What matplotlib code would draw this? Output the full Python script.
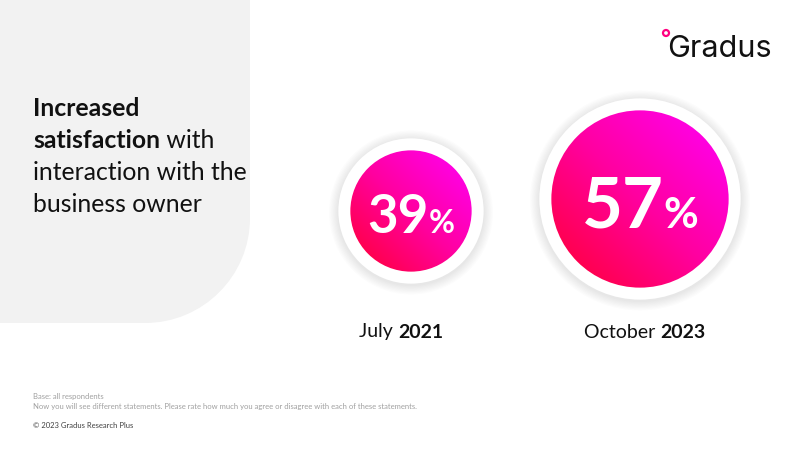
import numpy as np
import matplotlib
matplotlib.use("Agg")
import matplotlib.pyplot as plt
from matplotlib.patches import Circle, PathPatch
from matplotlib.path import Path
from matplotlib.colors import LinearSegmentedColormap

# data
values = [39, 57]
months = ["July", "October"]
years = ["2021", "2023"]
centers_x = [411, 640]
centers_y = [211, 199]
label_x = [401, 645]
label_sizes = [38, 51]

title_runs = [
    [("Increased", "bold")],
    [("satisfaction", "bold"), (" with", "normal")],
    [("interaction with the", "normal")],
    [("business owner", "normal")],
]
base_lines = [
    "Base: all respondents",
    "Now you will see different statements. Please rate how much you agree or disagree with each of these statements.",
]
copyright_text = "\u00a9 2023 Gradus Research Plus"

FONT = "Lato"
plt.rcParams["font.family"] = [FONT, "DejaVu Sans"]

fig = plt.figure(figsize=(8, 4.5), dpi=100)
ax = fig.add_axes([0, 0, 1, 1])
ax.set_xlim(0, 800)
ax.set_ylim(450, 0)
ax.axis("off")
fig.canvas.draw()
renderer = fig.canvas.get_renderer()


def runs(x, y, parts, size, color="#000000", va="center"):
    """draw text pieces one after another on one line"""
    for txt, weight in parts:
        t = ax.text(x, y, txt, fontsize=size, fontweight=weight, color=color,
                    ha="left", va=va)
        bb = t.get_window_extent(renderer)
        x += bb.width
    return x


# grey panel with rounded bottom-right corner
pw, ph, rad = 250, 323, 105
k = 0.5523
verts = [(0, 0), (pw, 0), (pw, ph - rad),
         (pw, ph - rad + rad * k), (pw - rad + rad * k, ph), (pw - rad, ph),
         (0, ph), (0, 0)]
codes = [Path.MOVETO, Path.LINETO, Path.LINETO,
         Path.CURVE4, Path.CURVE4, Path.CURVE4,
         Path.LINETO, Path.CLOSEPOLY]
ax.add_patch(PathPatch(Path(verts, codes), facecolor="#f2f2f2", edgecolor="none", zorder=0))

# headline
line_y = [108, 140, 172, 204]
for yy, parts in zip(line_y, title_runs):
    runs(33, yy, parts, 17.8, color="#111111")

# circles
cmap = LinearSegmentedColormap.from_list("grad", ["#ff0030", "#ff00a0", "#ff00fa"])
for v, cx, cy, big in zip(values, centers_x, centers_y, label_sizes):
    r = v * 1.555
    ring = r + 12
    # soft shadow
    for i in range(8):
        ax.add_patch(Circle((cx, cy + 1.5), ring + 1 + i * 1.2, facecolor="#000000",
                            edgecolor="none", alpha=0.012, zorder=1))
    ax.add_patch(Circle((cx, cy), ring, facecolor="white", edgecolor="none", zorder=2))
    n = 200
    u = np.linspace(0, 1, n)
    uu, vv = np.meshgrid(u, u)
    grad = (uu + (1 - vv)) / 2
    im = ax.imshow(grad, cmap=cmap, extent=[cx - r, cx + r, cy + r, cy - r],
                   origin="upper", zorder=3, interpolation="bilinear")
    clip = Circle((cx, cy), r, transform=ax.transData)
    im.set_clip_path(clip)
    # value label
    t1 = ax.text(0, 0, str(v), fontsize=big, fontweight="bold", color="white",
                 ha="left", va="baseline", zorder=4)
    t2 = ax.text(0, 0, "%", fontsize=big * 0.6, fontweight="bold", color="white",
                 ha="left", va="baseline", zorder=4)
    w1 = t1.get_window_extent(renderer).width
    w2 = t2.get_window_extent(renderer).width
    x0 = cx - (w1 + w2) / 2
    base = cy + big * 0.5 + 3
    t1.set_position((x0, base))
    t2.set_position((x0 + w1, base))

# period labels
for m, yv, lx in zip(months, years, label_x):
    parts = [(m + " ", "normal"), (yv, "bold")]
    tmp = [ax.text(0, 0, p, fontsize=14, fontweight=w) for p, w in parts]
    tw = sum(t.get_window_extent(renderer).width for t in tmp)
    for t in tmp:
        t.remove()
    runs(lx - tw / 2, 332, parts, 14, color="#111111")

# footer
ax.text(33, 397, base_lines[0], fontsize=5.5, color="#a0a0a0", va="center")
ax.text(33, 407, base_lines[1], fontsize=5.5, color="#a0a0a0", va="center")
ax.text(33, 426, copyright_text, fontsize=5.5, color="#404040", va="center")

# logo
ax.text(667, 49, "Gradus", fontsize=22, color="#111111", va="center", ha="left",
        family=["Inter", "DejaVu Sans"])
ax.add_patch(Circle((666, 33), 3, facecolor="none", edgecolor="#ff0080", lw=1.6, zorder=5))

fig.savefig("out.png", dpi=100)
